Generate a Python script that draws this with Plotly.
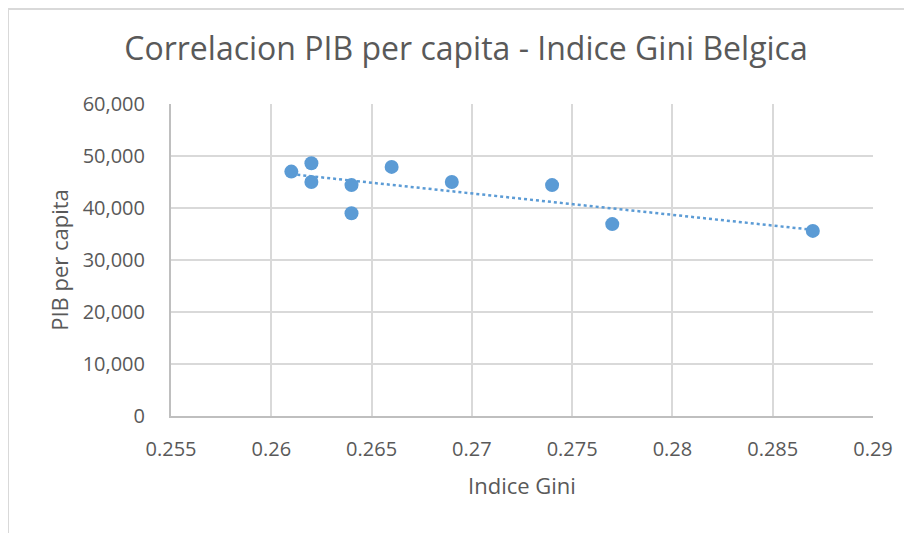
import numpy as np
import plotly.graph_objects as go

gini = [0.261, 0.262, 0.262, 0.264, 0.264, 0.266, 0.269, 0.274, 0.277, 0.287]
pib = [47000, 48600, 45000, 44400, 39000, 47900, 45000, 44400, 36900, 35600]

x_ticks = [0.255, 0.26, 0.265, 0.27, 0.275, 0.28, 0.285, 0.29]
x_ticklabels = ["0.255", "0.26", "0.265", "0.27", "0.275", "0.28", "0.285", "0.29"]
y_ticks = [0, 10000, 20000, 30000, 40000, 50000, 60000]
y_ticklabels = ["0", "10,000", "20,000", "30,000", "40,000", "50,000", "60,000"]

FONT = "Open Sans"
TXT = "#595959"
BLUE = "#5B9BD5"
GRID = "#D9D9D9"

slope, intercept = np.polyfit(gini, pib, 1)
tx = [min(gini), max(gini)]
ty = [slope * v + intercept for v in tx]

fig = go.Figure()
fig.add_trace(go.Scatter(x=tx, y=ty, mode="lines",
                         line=dict(color=BLUE, width=2.5, dash="dot"),
                         hoverinfo="skip", showlegend=False))
fig.add_trace(go.Scatter(x=gini, y=pib, mode="markers",
                         marker=dict(color=BLUE, size=14),
                         showlegend=False))

# page has an 8px body margin; figure is sized to fit inside the window
OFF = 8
W, H = 912 - OFF, 533 - OFF
L, R, T, B = 171 - OFF, 39, 104 - OFF, 117
pw, ph = W - L - R, H - T - B

fig.update_layout(
    width=W, height=H,
    margin=dict(l=L, r=R, t=T, b=B),
    paper_bgcolor="white", plot_bgcolor="white",
    font=dict(family=FONT, color=TXT, size=20),
    title=dict(text="Correlacion PIB per capita - Indice Gini Belgica",
               x=(466 - OFF) / W, xanchor="center", y=1 - (49 - OFF) / H, yanchor="middle",
               font=dict(size=32, color=TXT, family=FONT)),
    xaxis=dict(range=[0.255, 0.29], tickvals=x_ticks, ticktext=x_ticklabels,
               showgrid=True, gridcolor=GRID, gridwidth=2,
               showline=True, linecolor="#BFBFBF", linewidth=2,
               zeroline=False, ticks="", ticklen=0, ticklabelstandoff=14,
               title=dict(text="Indice Gini", font=dict(size=22, color=TXT), standoff=18),
               tickfont=dict(size=20, color=TXT)),
    yaxis=dict(range=[0, 60000], tickvals=y_ticks, ticktext=y_ticklabels,
               showgrid=True, gridcolor=GRID, gridwidth=2,
               showline=True, linecolor="#BFBFBF", linewidth=2,
               zeroline=False, ticks="", ticklen=0, ticklabelstandoff=20,
               title=dict(text="PIB per capita", font=dict(size=22, color=TXT), standoff=8),
               tickfont=dict(size=20, color=TXT)),
    shapes=[
        dict(type="line", xref="paper", yref="paper",
             x0=-L / pw, x1=(W + 10 - L) / pw,
             y0=1 + (T - 1) / ph, y1=1 + (T - 1) / ph,
             line=dict(color=GRID, width=2)),
        dict(type="line", xref="paper", yref="paper",
             x0=-L / pw, x1=-L / pw,
             y0=1 + (T - 1) / ph, y1=-(B + 10) / ph,
             line=dict(color=GRID, width=2)),
    ],
)

fig.write_html("out.html")
